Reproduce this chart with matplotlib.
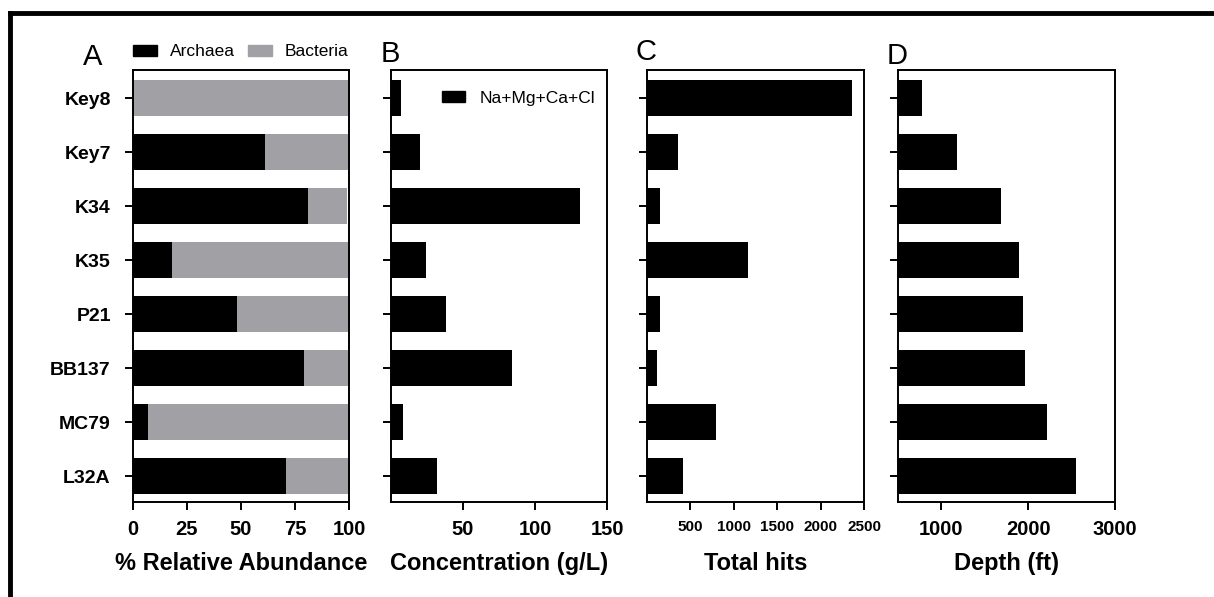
import numpy as np
import matplotlib
matplotlib.use("Agg")
import matplotlib.pyplot as plt
from matplotlib.lines import Line2D
from matplotlib.patches import Patch

plt.rcParams["font.family"] = ["Liberation Sans", "DejaVu Sans"]

# sample sites, top to bottom
sites = ["Key8", "Key7", "K34", "K35", "P21", "BB137", "MC79", "L32A"]

# panel A: relative abundance (%)
archaea = [0, 61, 81, 18, 48, 79, 7, 71]
bacteria = [100, 39, 18, 82, 52, 21, 93, 29]

# panel B: Na+Mg+Ca+Cl concentration (g/L)
conc = [7, 20, 131, 24, 38, 84, 8, 32]

# panel C: total hits
hits = [2360, 357, 150, 1163, 150, 115, 795, 415]

# panel D: depth (ft)
depth = [776, 1180, 1687, 1894, 1940, 1963, 2217, 2551]

BLACK = "#000000"
GRAY = "#a1a1a5"
W, H = 1214, 597

fig = plt.figure(figsize=(W / 100, H / 100), dpi=100)

def px_axes(x0, x1, y0, y1):
    return fig.add_axes([x0 / W, 1 - y1 / H, (x1 - x0) / W, (y1 - y0) / H])

ax_a = px_axes(133, 349, 70, 502)
ax_b = px_axes(391, 607, 70, 502)
ax_c = px_axes(647, 864, 70, 502)
ax_d = px_axes(898, 1115, 70, 502)

y = np.arange(len(sites))
bh = 0.67

ax_a.barh(y, archaea, height=bh, color=BLACK)
ax_a.barh(y, bacteria, height=bh, left=archaea, color=GRAY)
ax_b.barh(y, conc, height=bh, color=BLACK)
ax_c.barh(y, hits, height=bh, color=BLACK)
ax_d.barh(y, depth, height=bh, color=BLACK)

ax_a.set_xlim(0, 100)
ax_a.set_xticks([0, 25, 50, 75, 100])
ax_b.set_xlim(0, 150)
ax_b.set_xticks([50, 100, 150])
ax_c.set_xlim(0, 2500)
ax_c.set_xticks([500, 1000, 1500, 2000, 2500])
ax_d.set_xlim(500, 3000)
ax_d.set_xticks([1000, 2000, 3000])

labels = ["% Relative Abundance", "Concentration (g/L)", "Total hits", "Depth (ft)"]
for ax, lab in zip([ax_a, ax_b, ax_c, ax_d], labels):
    ax.set_ylim(7.48, -0.52)
    ax.set_yticks(y)
    ax.tick_params(axis="x", direction="out", length=6, width=1.4, pad=7)
    ax.tick_params(axis="y", direction="out", length=6, width=1.4, pad=10)
    for s in ax.spines.values():
        s.set_linewidth(1.4)
    ax.set_xlabel(lab, fontsize=17, fontweight="bold", labelpad=9)
    for t in ax.get_xticklabels():
        t.set_fontweight("bold")
        t.set_fontsize(14.5)

ax_a.set_yticklabels(sites, fontsize=14, fontweight="bold")
for ax in [ax_b, ax_c, ax_d]:
    ax.set_yticklabels([])
for t in ax_c.get_xticklabels():
    t.set_fontsize(11)
ax_c.xaxis.labelpad = 13

# legends
ax_a.legend(handles=[Patch(color=BLACK, label="Archaea"), Patch(color=GRAY, label="Bacteria")],
            ncol=2, frameon=False, loc="center left",
            bbox_to_anchor=((126 - 133) / 216, (502 - 52) / 432),
            fontsize=12.5, handlelength=1.38, handleheight=0.57, columnspacing=0.75,
            handletextpad=0.75, borderaxespad=0)
ax_b.legend(handles=[Patch(color=BLACK, label="Na+Mg+Ca+Cl")], frameon=False,
            loc="center right", bbox_to_anchor=((602 - 391) / 216, (502 - 98) / 432),
            fontsize=12.5, handlelength=1.3, handleheight=0.57, handletextpad=0.85,
            borderaxespad=0)

# panel letters
for xp, yp, letter in [(83, 65, "A"), (381, 62, "B"), (635, 60, "C"), (887, 64, "D")]:
    fig.text(xp / W, 1 - yp / H, letter, fontsize=21, ha="left", va="baseline")

# outer frame (left and top edges)
fig.add_artist(Line2D([10 / W, 10 / W], [0, 1 - 12.5 / H], color="black", lw=3.5,
                      transform=fig.transFigure, solid_capstyle="projecting"))
fig.add_artist(Line2D([10 / W, 1], [1 - 12.5 / H, 1 - 12.5 / H], color="black", lw=3.5,
                      transform=fig.transFigure, solid_capstyle="projecting"))

fig.savefig("out.png", dpi=100)
